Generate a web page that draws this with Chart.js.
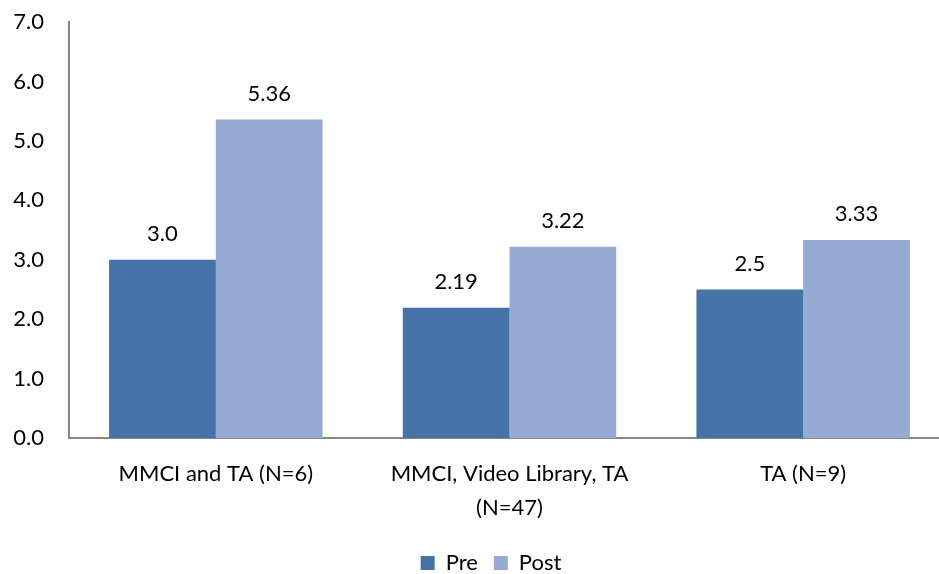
<!DOCTYPE html>
<html>
<head>
<meta charset="utf-8">
<script src="https://cdn.jsdelivr.net/npm/chart.js@4"></script>
<style>
  html, body { margin: 0; padding: 0; background: #fff; overflow: hidden; }
  #wrap { width: 950px; height: 574px; }
</style>
</head>
<body>
<div id="wrap"><canvas id="scoreChart"></canvas></div>
<script>
const categories = [
    "MMCI and TA (N=6)",
    ["MMCI, Video Library, TA", "(N=47)"],
    "TA (N=9)"
];

const preValues = [3.0, 2.19, 2.5];
const postValues = [5.36, 3.22, 3.33];

const preLabels = ["3.0", "2.19", "2.5"];
const postLabels = ["5.36", "3.22", "3.33"];

const yMin = 0;
const yMax = 7;
const yStep = 1;

const FONT = "Lato";

// value labels above bars + legend nudge
const barLabels = {
    id: "barLabels",
    afterLayout(chart) {
        const lg = chart.legend;
        lg.left += 16;
        lg.right += 16;
        lg.top += 10;
        lg.bottom += 10;
    },
    afterDatasetsDraw(chart) {
        const ctx = chart.ctx;
        ctx.save();
        ctx.font = "22px " + FONT;
        ctx.fillStyle = "#000";
        ctx.textAlign = "center";
        ctx.textBaseline = "middle";
        chart.data.datasets.forEach((ds, i) => {
            const meta = chart.getDatasetMeta(i);
            meta.data.forEach((bar, j) => {
                ctx.fillText(ds.valueLabels[j], bar.x, bar.y - 26);
            });
        });
        ctx.restore();
    }
};

new Chart(document.getElementById("scoreChart"), {
    type: "bar",
    data: {
        labels: categories,
        datasets: [{
            label: "Pre",
            data: preValues,
            valueLabels: preLabels,
            backgroundColor: "#4572A7"
        }, {
            label: "Post",
            data: postValues,
            valueLabels: postLabels,
            backgroundColor: "#95ABD3"
        }]
    },
    options: {
        responsive: true,
        maintainAspectRatio: false,
        animation: false,
        categoryPercentage: 0.727,
        barPercentage: 1,
        layout: {
            padding: { left: 0, right: 0, top: 22, bottom: 0 }
        },
        scales: {
            x: {
                grid: { display: false, drawTicks: false },
                border: { color: "#868686", width: 2 },
                ticks: {
                    color: "#000",
                    font: { family: FONT, size: 22, lineHeight: 1.55 },
                    padding: 19,
                    maxRotation: 0,
                    autoSkip: false
                },
                afterFit: s => { s.height = 88; }
            },
            y: {
                min: yMin,
                max: yMax,
                grid: { display: false, drawTicks: false },
                border: { color: "#868686", width: 2 },
                ticks: {
                    stepSize: yStep,
                    color: "#000",
                    font: { family: FONT, size: 22 },
                    padding: 25,
                    callback: v => Number(v).toFixed(1)
                },
                afterFit: s => {
                    s.width = 69;
                    s.paddingTop = 0;
                    s.paddingBottom = 0;
                }
            }
        },
        plugins: {
            legend: {
                position: "bottom",
                labels: {
                    color: "#000",
                    font: { family: FONT, size: 22 },
                    boxWidth: 14,
                    boxHeight: 14,
                    padding: 16
                }
            },
            tooltip: { enabled: false }
        }
    },
    plugins: [barLabels]
});
</script>
</body>
</html>
